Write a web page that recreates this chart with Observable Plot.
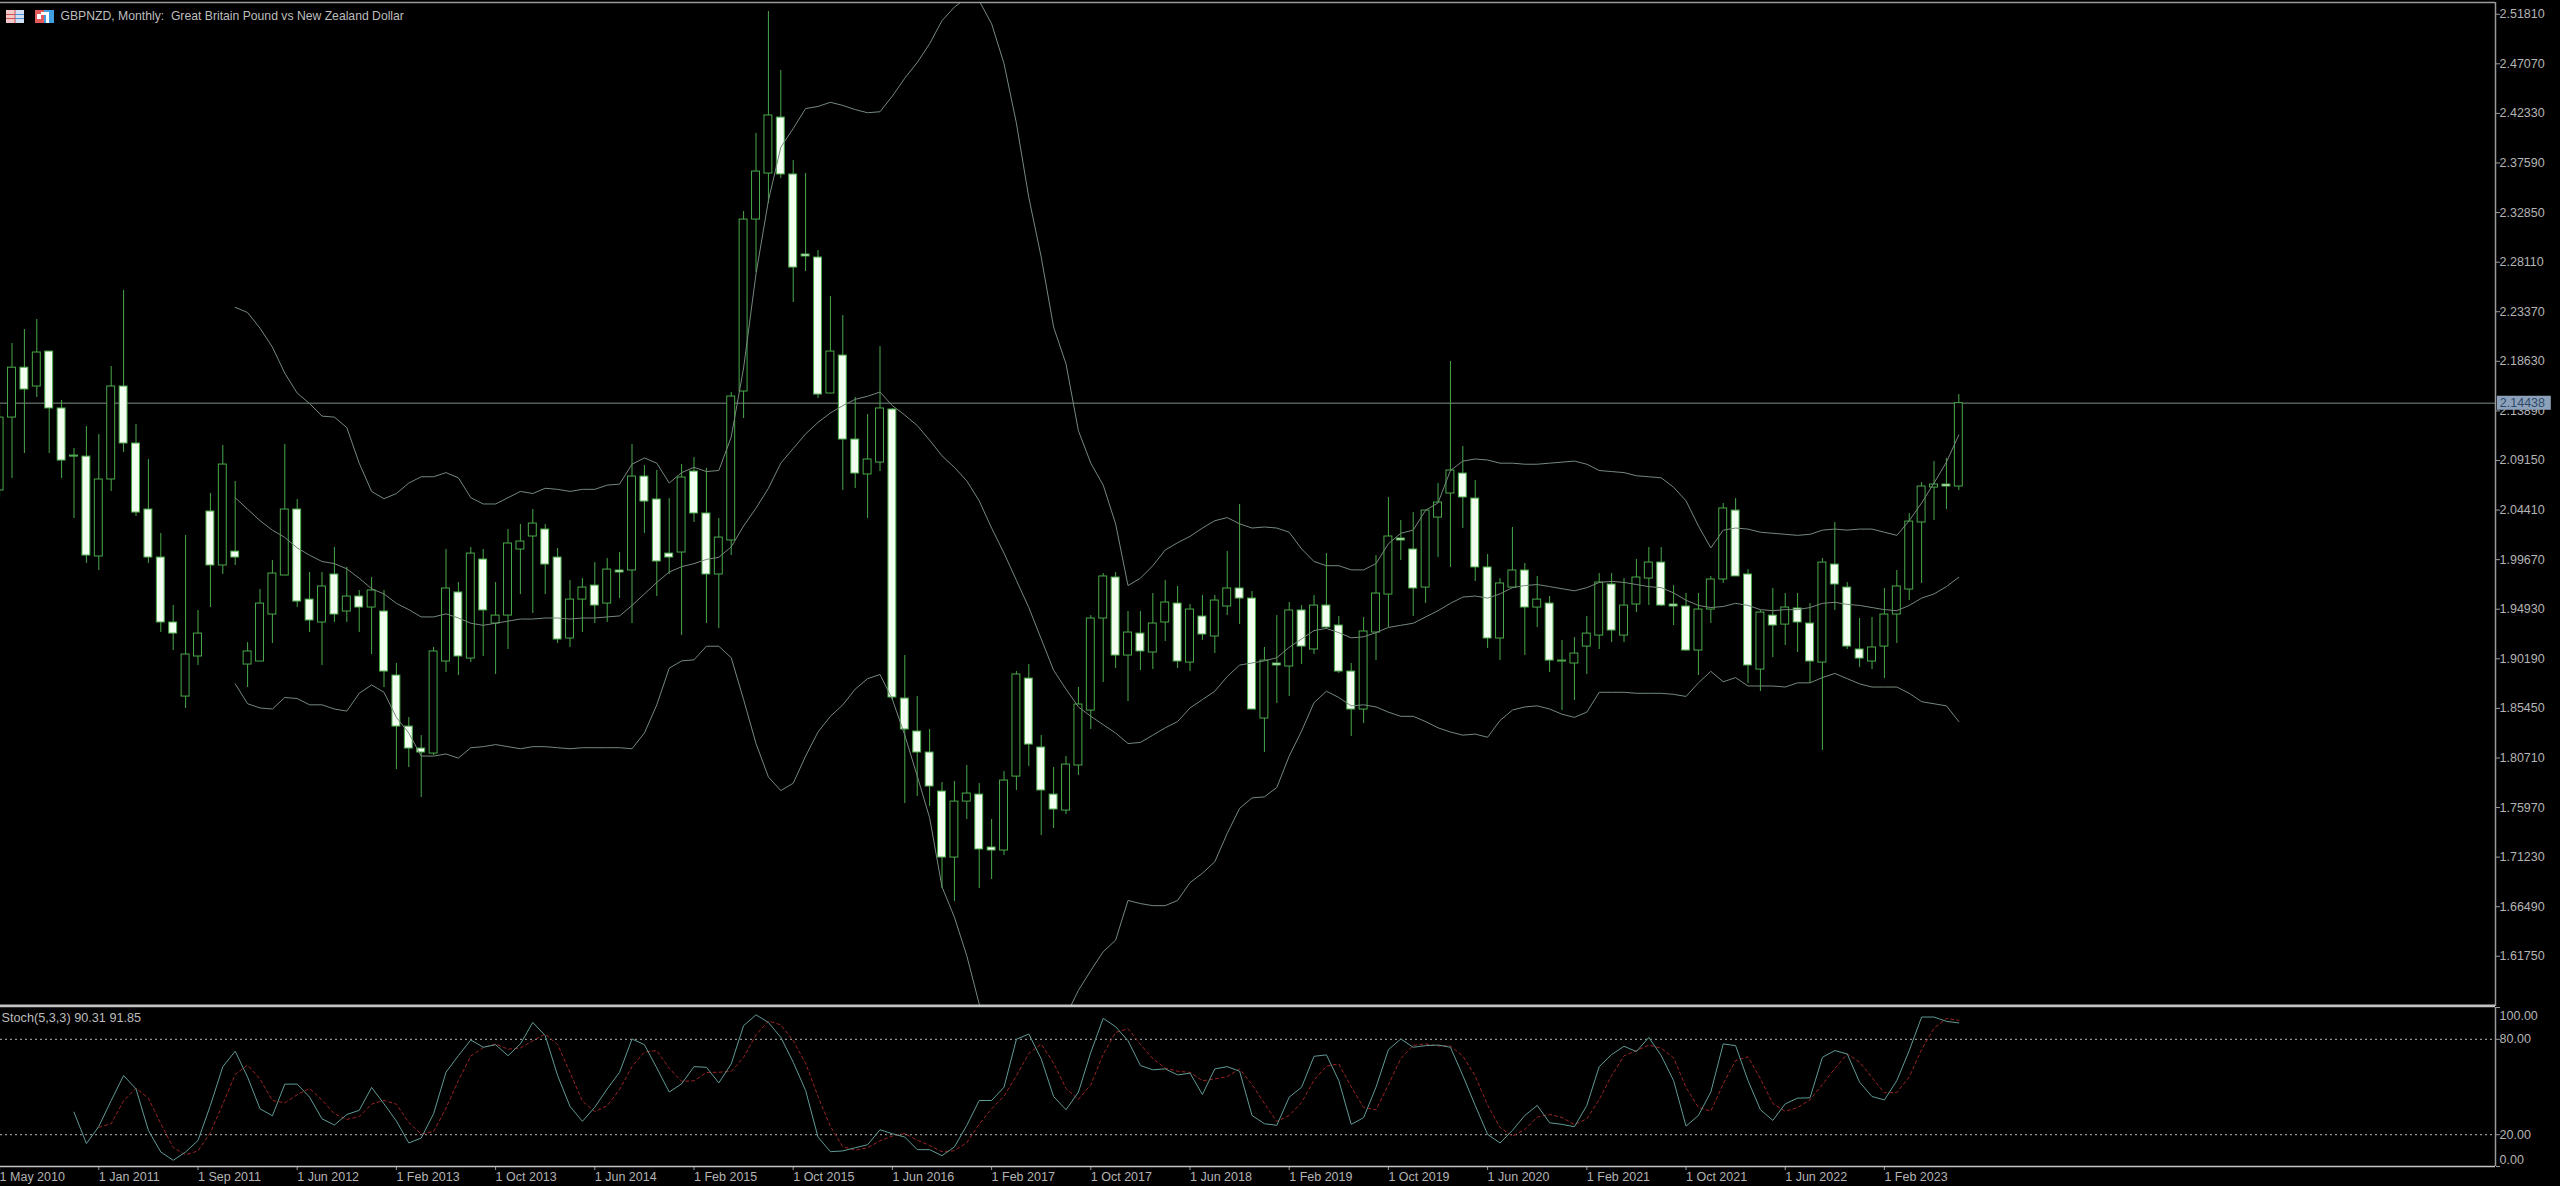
<!DOCTYPE html>
<html><head><meta charset="utf-8">
<style>
html,body{margin:0;padding:0;background:#000;overflow:hidden;width:2560px;height:1186px}
svg{display:block}
#wrap{position:relative;width:2560px;height:1186px}
#icons{position:absolute;left:0;top:0}
</style>
<script src="https://cdn.jsdelivr.net/npm/d3@7"></script>
<script src="https://cdn.jsdelivr.net/npm/@observablehq/plot@0.6"></script>
</head><body><div id="wrap"></div>
<script>
const title = "GBPNZD, Monthly:  Great Britain Pound vs New Zealand Dollar";
const stochLabel = "Stoch(5,3,3) 90.31 91.85";
const lastPrice = 2.14438;
const priceTicks = [2.5181,2.4707,2.4233,2.3759,2.3285,2.2811,2.2337,2.1863,2.1389,2.0915,2.0441,1.9967,1.9493,1.9019,1.8545,1.8071,1.7597,1.7123,1.6649,1.6175];
const stochMidTicks = [80,20];
const stochTopTick = [100];
const stochBottomTick = [0];
const stochLevels = [80,20];
const dateLabels = ["1 May 2010","1 Jan 2011","1 Sep 2011","1 Jun 2012","1 Feb 2013","1 Oct 2013","1 Jun 2014","1 Feb 2015","1 Oct 2015","1 Jun 2016","1 Feb 2017","1 Oct 2017","1 Jun 2018","1 Feb 2019","1 Oct 2019","1 Jun 2020","1 Feb 2021","1 Oct 2021","1 Jun 2022","1 Feb 2023"];
const barsPerDateLabel = 8;

const opens = [2.0609,2.1306,2.1783,2.1603,2.1937,2.1393,2.0943,2.0933,1.9978,2.0714,
2.1603,2.1058,2.0427,1.9968,1.9347,1.8639,1.9022,2.0408,1.9892,2.0025,
1.8945,1.8974,1.9423,1.9796,2.0427,1.9566,1.9347,1.9806,1.9452,1.9595,
1.9490,1.9452,1.8840,1.8352,1.8142,1.8094,1.8974,1.9634,1.9002,1.9949,
1.9337,1.9413,2.0045,2.0169,2.0236,1.9968,1.9194,1.9566,1.9700,1.9528,
1.9844,1.9844,2.0742,2.0523,2.0006,2.0016,2.0790,2.0389,1.9806,2.0131,
2.1555,2.3199,2.3639,2.4174,2.3630,2.2865,2.2836,2.1536,2.1899,2.1096,
2.0762,2.0876,2.1383,1.8620,1.8305,1.8104,1.7731,1.7100,1.7635,1.7702,
1.7196,1.7167,1.7874,1.8811,1.8152,1.7702,1.7549,1.7980,1.8505,1.9385,
1.9777,1.9031,1.9241,1.9060,1.9347,1.9528,1.8964,1.9404,1.9213,1.9500,
1.9672,1.9576,1.8429,1.8955,1.8926,1.9462,1.9089,1.9509,1.9318,1.8878,
1.8515,1.9251,1.9614,2.0150,2.0045,1.9681,2.0350,2.0580,2.0771,2.0532,
1.9873,1.9194,1.9681,1.9844,1.9490,1.9528,1.8983,1.8955,1.9117,1.9222,
1.9710,1.9222,1.9519,1.9767,1.9920,1.9519,1.9500,1.9079,1.9471,1.9758,
2.0417,1.9806,1.8897,1.9413,1.9327,1.9481,1.9337,1.8964,1.9901,1.9681,
1.9089,1.8974,1.9117,1.9423,1.9662,2.0303,2.0637,2.0666,2.0647];

const closes = [2.1306,2.1783,2.1574,2.1928,2.1393,2.0895,2.0933,1.9987,2.0714,2.1603,
2.1058,2.0398,1.9968,1.9347,1.9241,1.9041,1.9241,1.9892,2.0857,1.9968,
1.9070,1.9528,1.9815,2.0427,1.9547,1.9366,1.9691,1.9423,1.9595,1.9490,
1.9653,1.8878,1.8352,1.8142,1.8104,1.9070,1.9672,1.9022,2.0006,1.9462,
1.9413,2.0102,2.0121,2.0293,1.9901,1.9184,1.9566,1.9681,1.9509,1.9853,
1.9825,2.0742,2.0503,1.9930,1.9968,2.0733,2.0389,1.9806,2.0159,2.1507,
2.3199,2.3658,2.4194,2.3630,2.2740,2.2846,2.1526,2.1937,2.1096,2.0771,
2.0905,2.1393,1.8630,1.8324,1.8104,1.7779,1.7100,1.7635,1.7712,1.7177,
1.7167,1.7836,1.8850,1.8180,1.7741,1.7559,1.7989,1.8563,1.9385,1.9787,
1.9031,1.9251,1.9070,1.9337,1.9538,1.8974,1.9471,1.9232,1.9557,1.9672,
1.9576,1.8515,1.8983,1.8936,1.9462,1.9117,1.9509,1.9299,1.8878,1.8515,
1.9261,1.9624,2.0169,2.0131,1.9672,2.0417,2.0494,2.0800,2.0542,1.9873,
1.9194,1.9720,1.9844,1.9490,1.9566,1.8983,1.8974,1.9050,1.9241,1.9729,
1.9270,1.9509,1.9777,1.9920,1.9509,1.9500,1.9079,1.9471,1.9758,2.0437,
1.9787,1.8936,1.9442,1.9318,1.9490,1.9347,1.8974,1.9920,1.9710,1.9117,
1.9002,1.9108,1.9423,1.9691,2.0312,2.0647,2.0666,2.0647,2.14438];

const highs = [2.1421,2.2014,2.2148,2.2243,2.1937,2.1469,2.1010,2.1220,2.1144,2.1794,
2.2521,2.1240,2.0905,2.0198,1.9509,2.0178,1.9462,2.0580,2.1039,2.0695,
1.9155,1.9662,1.9939,2.1049,2.0523,1.9825,1.9825,2.0064,1.9873,1.9653,
1.9777,1.9653,1.8955,1.8438,1.8266,1.9108,2.0045,1.9729,2.0064,2.0045,
1.9729,2.0236,2.0284,2.0427,2.0284,2.0054,1.9748,1.9767,1.9920,1.9958,
2.0016,2.1049,2.0847,2.0800,2.0532,2.0857,2.0924,2.0819,2.0341,2.1545,
2.3276,2.4022,2.5188,2.4624,2.3763,2.3639,2.2903,2.2463,2.2282,2.1498,
2.1335,2.1985,2.1393,1.9031,1.8639,1.8324,1.7817,1.7827,1.7980,1.7807,
1.7463,1.7922,1.8878,1.8945,1.8266,1.7960,1.8066,1.8725,1.9413,1.9815,
1.9825,1.9452,1.9452,1.9624,1.9748,1.9691,1.9519,1.9605,1.9605,2.0025,
2.0475,1.9643,1.9108,1.9413,1.9538,1.9509,1.9605,2.0006,1.9404,1.8955,
1.9395,1.9987,2.0542,2.0322,2.0398,2.0417,2.0676,2.1842,2.1029,2.0704,
1.9997,1.9767,2.0255,1.9911,1.9787,1.9595,1.9175,1.9203,1.9404,1.9815,
1.9815,1.9767,1.9949,2.0064,2.0064,1.9700,1.9624,1.9624,1.9787,2.0484,
2.0532,1.9853,1.9462,1.9672,1.9624,1.9624,1.9528,1.9958,2.0303,1.9729,
1.9385,1.9395,1.9672,1.9844,2.0389,2.0685,2.0886,2.0915,2.1526];

const lows = [2.0542,2.0723,2.0962,2.1498,2.0962,2.0723,2.0341,1.9911,1.9844,2.0599,
2.0972,2.0360,1.9911,1.9251,1.9079,1.8525,1.8936,1.9490,1.9806,1.9892,
1.8725,1.8974,1.9146,1.9796,1.9490,1.9251,1.8936,1.9347,1.9347,1.9251,
1.9041,1.8725,1.7941,1.7960,1.7673,1.8075,1.8869,1.8840,1.8964,1.9022,
1.8850,1.9089,1.9614,1.9433,1.9614,1.9146,1.9108,1.9251,1.9337,1.9347,
1.9576,1.9337,2.0198,1.9595,1.9806,1.9222,2.0303,1.9337,1.9289,1.9987,
2.1297,2.2693,2.3352,2.3591,2.2406,2.2702,2.1488,2.1536,2.0609,2.0628,
2.0341,2.0790,1.8601,1.7616,1.7683,1.7587,1.6804,1.6679,1.7463,1.6804,
1.6890,1.7119,1.7741,1.7970,1.7311,1.7377,1.7511,1.7884,1.8324,1.8773,
1.8907,1.8591,1.8888,1.8897,1.9165,1.8907,1.8878,1.9175,1.9050,1.9413,
1.9327,1.8515,1.8104,1.8572,1.8639,1.8945,1.9041,1.9289,1.8859,1.8257,
1.8381,1.8983,1.9299,1.9939,1.9404,1.9528,1.9968,1.9873,2.0245,1.9739,
1.9098,1.8983,1.9681,1.9031,1.9299,1.8869,1.8505,1.8601,1.8850,1.9089,
1.9155,1.9155,1.9442,1.9509,1.9500,1.9318,1.9070,1.8840,1.9337,1.9720,
1.9787,1.8764,1.8687,1.9012,1.9127,1.9060,1.8764,1.8123,1.9462,1.9089,
1.8917,1.8897,1.8811,1.9146,1.9557,1.9720,2.0322,2.0427,2.0609];

const bandStart = 19;
const bandUpper = [2.236,2.231,2.216,2.198,2.173,2.154,2.144,2.132,2.131,2.121,2.087,2.060,2.053,2.058,2.068,2.074,2.074,2.078,2.073,2.054,2.048,2.048,2.054,2.060,2.058,2.063,2.062,2.060,2.062,2.062,2.066,2.067,2.086,2.092,2.087,2.068,2.078,2.083,2.079,2.080,2.112,2.178,2.268,2.338,2.389,2.407,2.426,2.428,2.432,2.429,2.425,2.422,2.423,2.438,2.455,2.470,2.488,2.510,2.523,2.532,2.529,2.507,2.469,2.412,2.341,2.284,2.217,2.182,2.118,2.087,2.066,2.029,1.970,1.977,1.989,2.004,2.011,2.017,2.025,2.032,2.035,2.029,2.025,2.026,2.025,2.021,2.005,1.993,1.989,1.989,1.985,1.985,1.991,2.010,2.020,2.023,2.042,2.049,2.080,2.089,2.091,2.090,2.087,2.087,2.086,2.086,2.087,2.088,2.089,2.086,2.080,2.079,2.078,2.075,2.074,2.073,2.064,2.051,2.027,2.006,2.023,2.025,2.024,2.021,2.020,2.019,2.018,2.019,2.023,2.024,2.023,2.024,2.024,2.021,2.018,2.032,2.049,2.068,2.088,2.114];
const bandMiddle = [2.054,2.043,2.032,2.023,2.016,2.006,1.999,1.993,1.991,1.986,1.977,1.967,1.962,1.953,1.947,1.940,1.940,1.943,1.939,1.934,1.932,1.934,1.936,1.938,1.938,1.939,1.939,1.938,1.939,1.939,1.940,1.941,1.951,1.962,1.973,1.983,1.988,1.991,1.995,1.997,2.007,2.027,2.044,2.063,2.087,2.101,2.115,2.126,2.135,2.142,2.148,2.151,2.155,2.142,2.133,2.123,2.109,2.094,2.083,2.070,2.051,2.025,2.001,1.975,1.949,1.919,1.889,1.871,1.854,1.845,1.837,1.829,1.819,1.820,1.827,1.834,1.840,1.853,1.861,1.869,1.883,1.894,1.896,1.898,1.901,1.911,1.919,1.927,1.929,1.925,1.920,1.921,1.925,1.930,1.932,1.934,1.940,1.946,1.953,1.959,1.960,1.958,1.962,1.968,1.970,1.971,1.969,1.967,1.965,1.968,1.973,1.974,1.973,1.971,1.969,1.968,1.963,1.956,1.951,1.949,1.950,1.953,1.951,1.947,1.946,1.947,1.947,1.949,1.953,1.954,1.952,1.951,1.949,1.947,1.946,1.951,1.958,1.962,1.969,1.978];
const bandLower = [1.876,1.857,1.853,1.852,1.863,1.862,1.856,1.856,1.852,1.850,1.867,1.875,1.868,1.844,1.829,1.807,1.807,1.809,1.805,1.815,1.816,1.818,1.816,1.814,1.816,1.816,1.815,1.814,1.815,1.815,1.815,1.815,1.814,1.829,1.856,1.891,1.898,1.899,1.912,1.912,1.901,1.861,1.819,1.787,1.774,1.781,1.807,1.830,1.845,1.856,1.871,1.881,1.885,1.861,1.827,1.788,1.748,1.682,1.653,1.616,1.570,1.535,1.516,1.502,1.506,1.516,1.530,1.559,1.583,1.602,1.620,1.631,1.669,1.666,1.664,1.664,1.669,1.686,1.695,1.706,1.733,1.757,1.767,1.768,1.777,1.807,1.831,1.858,1.869,1.863,1.855,1.856,1.854,1.849,1.845,1.845,1.840,1.834,1.830,1.827,1.828,1.825,1.841,1.851,1.854,1.855,1.852,1.847,1.844,1.849,1.868,1.868,1.868,1.867,1.867,1.867,1.866,1.864,1.877,1.888,1.878,1.882,1.874,1.874,1.874,1.873,1.877,1.877,1.882,1.886,1.881,1.876,1.873,1.873,1.873,1.867,1.859,1.857,1.855,1.840];

const stochKStart = 6;
const stochK = [34.2,14.4,25.2,41.5,57.2,48.8,22.7,9.1,3.9,9.1,16.4,38.4,62.8,72.5,56.2,36.3,31.9,51.8,51.8,43.6,30,26.1,32.7,35.3,49.7,39.4,28.6,14.8,17.9,33.2,59.3,69.7,79.6,75,76.6,69.7,77.1,90.6,82.3,57.2,37.8,28.4,37.3,48.8,59.3,80.2,76.6,62,46.8,52,62.8,62.4,52.6,64.5,88.6,95.4,90.6,81.2,65.6,47.8,18.5,9.3,9.8,11.8,13.7,23.1,20.6,18.5,10.6,10.6,6.8,12.3,25.9,41.5,41.5,49.9,80,83.3,67.7,44,35.7,46.8,71.8,93.2,87.9,79.1,63.5,60.8,61.4,57.6,58.7,45.3,61.4,62.8,59.9,32.1,26.9,25.9,43.6,49.9,69.3,70.2,54,26.5,30.7,49.9,73.5,80.2,75,76,76.4,75,57.2,38.4,20.2,14.8,22.7,32.1,38.4,27.5,26.5,25,38.4,62.8,70.4,75.6,72.3,81.2,69.7,54,25.4,32.1,46.8,77.1,76,54,35.7,29,39.4,43,43.2,68.7,72.9,70.8,53,44,41.9,54,72.9,94,94,91.3,90.3];
const stochDStart = 8;
const stochD = [24.6,27,41.3,49.2,42.9,26.9,11.9,7.4,9.8,21.3,39.2,57.9,63.8,55,41.5,40,45.2,49.1,41.8,33.2,29.6,31.4,39.2,41.5,39.2,27.6,20.4,22,36.8,54.1,69.5,74.8,77.1,73.8,74.5,79.1,83.3,76.7,59.1,41.1,34.5,38.2,48.5,62.8,72,72.9,61.8,53.6,53.9,59.1,59.3,59.8,68.6,82.8,91.5,89.1,79.1,64.9,44,25.2,12.5,10.3,11.8,16.2,19.1,20.7,16.6,13.2,9.3,9.9,15,26.6,36.3,44.3,57.1,71.1,77,65,49.1,42.2,51.4,70.6,84.3,86.7,76.8,67.8,61.9,59.9,59.2,53.9,55.1,56.5,61.4,51.6,39.6,28.3,32.1,40.3,54.3,63.1,64.5,50.2,37.1,35.7,51.4,67.9,76.2,77.1,75.8,75.8,69.5,56.9,38.6,24.5,19.2,23.2,31.1,32.7,30.8,26.3,30,42.1,57.2,69.6,72.8,76.4,74.4,68.3,49.7,37.2,34.8,52,66.6,69,55.2,39.6,34.7,37.1,41.9,51.6,61.6,70.8,65.6,55.9,46.3,46.6,56.3,73.6,87,93.1,91.9];

const candles = opens.map((o,i)=>({i,o,h:highs[i],l:lows[i],c:closes[i],up:closes[i]>=o}));
const series = (arr,start)=>arr.map((v,k)=>({i:start+k,v}));

const FONT = "Liberation Sans";
const GREEN = "#4aa84a", WHITE="#f2fff0", BAND="#74897b", AXIS="#9a9a9a", TEXT="#b4b4b4", KCOL="#5f9a96", DCOL="#9a2424";
const xDomain = [0.0726, 201.28];
const yTop = 2.5274, yBottom = 1.5676;
const halfBody = 0.32;

const main = Plot.plot({
  width:2560, height:1006, marginLeft:0, marginRight:65, marginTop:2, marginBottom:0,
  style:{background:"#000",color:TEXT,fontFamily:FONT,fontSize:"13px",overflow:"visible"},
  x:{domain:xDomain, axis:null},
  y:{domain:[yBottom,yTop], axis:null},
  marks:[
    Plot.ruleY([lastPrice],{stroke:"#7f8f84",strokeWidth:1}),
    Plot.ruleX(candles,{x:"i",y1:"l",y2:"h",stroke:GREEN,strokeWidth:1}),
    Plot.rect(candles,{x1:d=>d.i-halfBody,x2:d=>d.i+halfBody,y1:d=>Math.min(d.o,d.c),y2:d=>Math.max(d.o,d.c),
      fill:d=>d.up?"#000":WHITE,stroke:GREEN,strokeWidth:1}),
    Plot.line(series(bandUpper,bandStart),{x:"i",y:"v",stroke:BAND,strokeWidth:1,clip:true}),
    Plot.line(series(bandMiddle,bandStart),{x:"i",y:"v",stroke:BAND,strokeWidth:1,clip:true}),
    Plot.line(series(bandLower,bandStart),{x:"i",y:"v",stroke:BAND,strokeWidth:1,clip:true}),
    Plot.axisY(priceTicks,{anchor:"right",label:null,tickSize:4,tickPadding:0,stroke:AXIS,fill:TEXT,fontSize:12.5,dy:2,tickFormat:d=>d.toFixed(5)}),
    Plot.ruleX([xDomain[1]],{stroke:AXIS,strokeWidth:1.5}),
    Plot.ruleY([yTop],{stroke:AXIS,strokeWidth:1.5}),
    Plot.ruleY([yBottom],{stroke:"#c4c4c4",strokeWidth:2,dy:-1}),
    Plot.rect([lastPrice],{x1:()=>xDomain[1]+0.15,x2:()=>xDomain[1]+4.5,y1:d=>d-0.0068,y2:d=>d+0.0066,fill:"#8da2ba"}),
    Plot.text([lastPrice],{x:()=>xDomain[1]+0.35,y:d=>d,text:d=>d.toFixed(5),textAnchor:"start",fill:"#2f4a6c",fontSize:12.5}),
    Plot.text([title],{frameAnchor:"top-left",dx:60,dy:9,textAnchor:"start",fill:"#bdbdbd",fontSize:12.2,text:d=>d})
  ]
});

const tickIdx = dateLabels.map((_,k)=>k*barsPerDateLabel);
const stochText = {x:()=>xDomain[1]+0.33,y:d=>d,text:d=>d.toFixed(2),textAnchor:"start",fill:TEXT,fontSize:12.5};
const stoch = Plot.plot({
  width:2560, height:180, marginLeft:0, marginRight:65, marginTop:1, marginBottom:20,
  style:{background:"#000",color:TEXT,fontFamily:FONT,fontSize:"13px",overflow:"visible"},
  x:{domain:xDomain, axis:null},
  y:{domain:[0,100], axis:null},
  marks:[
    Plot.ruleY(stochLevels,{stroke:"#b8b8b8",strokeDasharray:"2,3",strokeWidth:1}),
    Plot.line(series(stochD,stochDStart),{x:"i",y:"v",stroke:DCOL,strokeDasharray:"3,3",strokeWidth:1}),
    Plot.line(series(stochK,stochKStart),{x:"i",y:"v",stroke:KCOL,strokeWidth:1}),
    Plot.axisY([...stochTopTick,...stochMidTicks,...stochBottomTick],{anchor:"right",label:null,tickSize:4,stroke:AXIS,tickFormat:()=>""}),
    Plot.text(stochMidTicks,stochText),
    Plot.text(stochTopTick,{...stochText,dy:8}),
    Plot.text(stochBottomTick,{...stochText,dy:-7}),
    Plot.axisX(tickIdx,{anchor:"bottom",label:null,tickSize:4,tickPadding:2,stroke:AXIS,fill:TEXT,fontSize:12.5,textAnchor:"start",
      tickFormat:i=>dateLabels[i/barsPerDateLabel]}),
    Plot.ruleX([xDomain[1]],{stroke:AXIS,strokeWidth:1.5}),
    Plot.ruleY([0],{stroke:"#c4c4c4",strokeWidth:1.5}),
    Plot.ruleY([100],{stroke:"#c4c4c4",strokeWidth:1.5,dy:-1}),
    Plot.text([stochLabel],{frameAnchor:"top-left",dx:1,dy:5,textAnchor:"start",fill:"#bdbdbd",fontSize:12.7,text:d=>d})
  ]
});

const wrap = document.getElementById("wrap");
wrap.appendChild(main);
wrap.appendChild(stoch);

const icons = document.createElementNS("http://www.w3.org/2000/svg","svg");
icons.setAttribute("id","icons");icons.setAttribute("width","60");icons.setAttribute("height","26");
icons.innerHTML = `
<rect x="6" y="10" width="9" height="13" fill="#f3c8c8"/><rect x="15" y="10" width="9" height="13" fill="#cfe0f4"/>
<path d="M6 14.5H24M6 18.5H24M15 10V23" stroke="#d05050" stroke-width="1"/><path d="M15 14.5H24M15 18.5H24" stroke="#4f8fd0" stroke-width="1"/>
<rect x="35" y="10" width="9" height="13" fill="#e35a5a"/><rect x="44" y="10" width="10" height="13" fill="#3f9fe0"/>
<path d="M37 14h4v5h-4zM41 12h8v3h-8zM46 15h3v8h-3z" fill="#fff"/>`;
wrap.appendChild(icons);
</script></body></html>
